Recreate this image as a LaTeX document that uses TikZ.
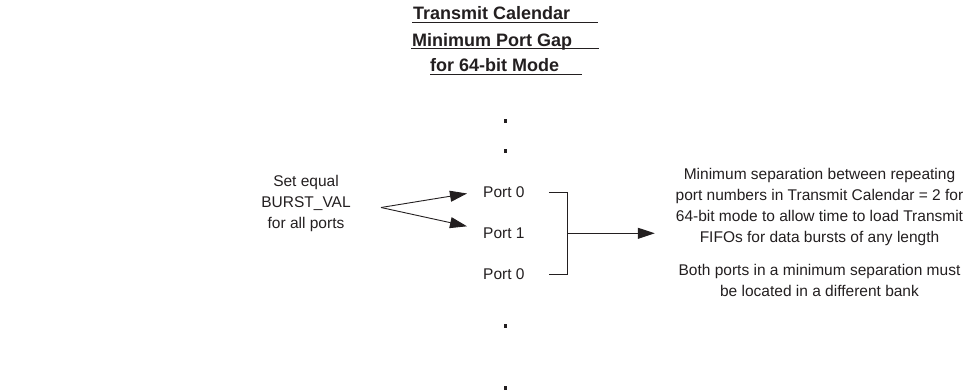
\documentclass[tikz,border=0pt]{standalone}
\usepackage{fontspec}
\setmainfont{Liberation Sans}
\usepackage{xcolor}
\usetikzlibrary{arrows.meta, positioning}
\definecolor{ink}{HTML}{231F20}

\begin{document}
\begin{tikzpicture}[x=1pt, y=-1pt, node distance=18.5pt,
  every node/.style={align=center, inner sep=0pt, text=ink, font=\fontsize{15.5}{21}\selectfont},
  title/.style={font=\fontsize{18}{29}\selectfont\bfseries, anchor=base west},
  dot/.style={rectangle, fill=ink, minimum size=3.8pt},
  wire/.style={draw=ink, line width=0.9pt},
  arr/.style={wire, -{Triangle[length=17pt, width=11pt]}}]
\useasboundingbox (0,0) rectangle (968,391);
\node (Title1) [title] at (413,19.5) {Transmit Calendar};
\node (Title2) [title] at (412,46) {Minimum Port Gap};
\node (Title3) [title] at (430,71.5) {for 64-bit Mode};
\draw[wire] ([xshift=-1pt, yshift=-2.5pt]Title1.base west) -- ++(186,0);
\draw[wire] ([xshift=-1pt, yshift=-2.5pt]Title2.base west) -- ++(188,0);
\draw[wire] ([yshift=-2.5pt]Title3.base west) -- ++(152,0);
\node (DotA) [dot] at (505.5,121) {};
\node (DotB) [dot] at (505.5,151) {};
\node (DotC) [dot] at (505.5,326) {};
\node (DotD) [dot] at (505.5,388) {};
\node (SetEq) at (306,203) {Set equal\\BURST\_VAL\\for all ports};
\coordinate (Fork) at (381,207.5);
\node (Port0a) [anchor=west] at (483,192.5) {Port 0};
\node (Port1) [below=29.5pt of Port0a] {Port 1};
\node (Port0b) [below=29.5pt of Port1] {Port 0};
\draw[arr] (Fork) -- ([xshift=-16pt, yshift=-1pt]Port0a.west);
\draw[arr] (Fork) -- ([xshift=-16pt, yshift=7pt]Port1.west);
\draw[wire] ([xshift=24pt]Port0a.east) -- ++(19,0) |- ([xshift=24pt]Port0b.east);
\coordinate (Join) at ([xshift=43pt]Port1.east);
\node (Note1) at (819.5,206.5) {Minimum separation between repeating\\port numbers in Transmit Calendar = 2 for\\64-bit mode to allow time to load Transmit\\FIFOs for data bursts of any length};
\node (Note2) [below=of Note1] {Both ports in a minimum separation must\\be located in a different bank};
\draw[arr] (Join) -- ++(87,0);
\end{tikzpicture}
\end{document}
